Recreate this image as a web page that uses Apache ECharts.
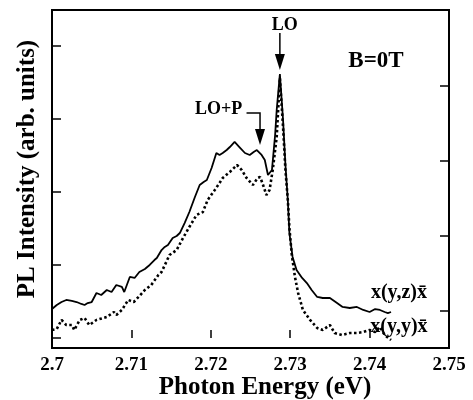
<!DOCTYPE html>
<html><head><meta charset="utf-8">
<script src="https://cdn.jsdelivr.net/npm/echarts@6/dist/echarts.min.js"></script>
<style>html,body{margin:0;padding:0;background:#fff}#c{width:473px;height:400px}</style>
</head><body><div id="c"></div>
<script>
// x(y,z)x̄ (solid)
var energyZ = [2.7000,2.7006,2.7012,2.7018,2.7025,2.7031,2.7037,2.7041,2.7045,2.7050,2.7056,2.7062,2.7069,2.7075,2.7081,2.7088,2.7091,2.7098,2.7104,2.7110,2.7117,2.7123,2.7129,2.7132,2.7138,2.7142,2.7146,2.7152,2.7157,2.7161,2.7167,2.7173,2.7180,2.7186,2.7191,2.7195,2.7201,2.7207,2.7211,2.7215,2.7220,2.7224,2.7230,2.7236,2.7243,2.7249,2.7254,2.7258,2.7264,2.7268,2.7272,2.7274,2.7277,2.7281,2.7283,2.7287,2.7291,2.7294,2.7297,2.7299,2.7303,2.7308,2.7315,2.7321,2.7327,2.7334,2.7341,2.7350,2.7359,2.7366,2.7375,2.7384,2.7392,2.7400,2.7407,2.7413,2.7419,2.7423,2.7427];
var intensityZ = [0.397,0.452,0.493,0.521,0.507,0.493,0.466,0.452,0.479,0.493,0.616,0.589,0.658,0.630,0.726,0.699,0.630,0.836,0.822,0.904,0.945,1.000,1.068,1.096,1.205,1.247,1.274,1.370,1.397,1.438,1.575,1.726,1.932,2.096,2.137,2.164,2.329,2.534,2.507,2.534,2.575,2.616,2.685,2.616,2.534,2.507,2.548,2.575,2.507,2.438,2.233,2.260,2.301,2.781,3.123,3.616,2.986,2.370,1.890,1.438,1.110,0.932,0.822,0.753,0.658,0.562,0.548,0.548,0.479,0.425,0.411,0.425,0.384,0.356,0.397,0.384,0.356,0.342,0.356];
// x(y,y)x̄ (dotted)
var energyY = [2.7000,2.7006,2.7012,2.7018,2.7025,2.7028,2.7035,2.7041,2.7047,2.7056,2.7069,2.7078,2.7081,2.7088,2.7096,2.7103,2.7109,2.7117,2.7125,2.7134,2.7138,2.7148,2.7157,2.7165,2.7173,2.7182,2.7190,2.7196,2.7205,2.7211,2.7215,2.7224,2.7233,2.7239,2.7245,2.7253,2.7259,2.7262,2.7265,2.7270,2.7274,2.7278,2.7283,2.7287,2.7291,2.7294,2.7297,2.7299,2.7302,2.7306,2.7310,2.7316,2.7325,2.7334,2.7341,2.7350,2.7356,2.7365,2.7375,2.7384,2.7392,2.7400,2.7407,2.7413,2.7419,2.7427];
var intensityY = [0.110,0.123,0.247,0.178,0.178,0.110,0.247,0.274,0.178,0.247,0.288,0.356,0.315,0.384,0.521,0.493,0.562,0.658,0.726,0.863,0.904,1.137,1.205,1.370,1.521,1.685,1.726,1.890,2.027,2.123,2.192,2.274,2.370,2.301,2.192,2.096,2.192,2.205,2.123,1.959,2.027,2.301,2.753,3.562,2.890,2.301,1.890,1.507,1.137,0.836,0.616,0.384,0.247,0.137,0.110,0.178,0.068,0.041,0.068,0.068,0.082,0.110,0.082,0.151,0.041,-0.027];
var xTicks = [2.7, 2.71, 2.72, 2.73, 2.74, 2.75];
var leftTicks = [0, 1, 2, 3, 4];
var rightTicks = [0, 1, 2, 3];

function pairs(xs, ys){ return xs.map(function(x,i){ return [x, ys[i]]; }); }
var FONT = '"Liberation Serif", "Times New Roman", serif';
var chart = echarts.init(document.getElementById('c'), null, {renderer:'canvas'});
chart.setOption({
  animation:false,
  backgroundColor:'#fff',
  grid:{left:52, right:24, top:10, bottom:52, show:true, borderColor:'#000', borderWidth:2, backgroundColor:'transparent'},
  xAxis:{type:'value', min:2.7, max:2.75, interval:0.01,
    axisLine:{show:false}, splitLine:{show:false},
    axisTick:{inside:true, length:8, lineStyle:{color:'#000', width:1.5}},
    axisLabel:{color:'#000', fontFamily:FONT, fontWeight:'bold', fontSize:19, margin:8,
      formatter:function(v){ var s = xTicks.filter(function(t){return Math.abs(t-v)<1e-9;}); return s.length? String(s[0]) : ''; }}},
  yAxis:[
    {type:'value', position:'left', min:-0.137, max:4.493,
     axisLine:{show:false}, splitLine:{show:false}, axisLabel:{show:false},
     axisTick:{inside:true, length:9, customValues:leftTicks, lineStyle:{color:'#000', width:1.5}}},
    {type:'value', position:'right', min:-0.49, max:4.0,
     axisLine:{show:false}, splitLine:{show:false}, axisLabel:{show:false},
     axisTick:{inside:true, length:9, customValues:rightTicks, lineStyle:{color:'#000', width:1.5}}}
  ],
  series:[
    {type:'line', name:'x(y,z)x', data:pairs(energyZ,intensityZ), showSymbol:false, yAxisIndex:0,
     lineStyle:{color:'#000', width:1.8}},
    {type:'line', name:'x(y,y)x', data:pairs(energyY,intensityY), showSymbol:false, yAxisIndex:0,
     lineStyle:{color:'#000', width:2.6, type:[2.5,2.5], cap:'butt'}}
  ]
});

function P(e, v){ return chart.convertToPixel({xAxisIndex:0, yAxisIndex:0}, [e, v]); }
var lo0 = P(2.7287, 4.178), lo1 = P(2.7287, 3.671), loT = P(2.7293, 4.288);
var lp0 = P(2.7245, 3.082), lp1 = P(2.7262, 3.082), lp2 = P(2.7262, 2.644), lpT = P(2.7210, 3.137);
var bT = P(2.7408, 3.795), zT = P(2.7437, 0.616), yT = P(2.7437, 0.151);
function head(x, y){ return {type:'polygon', shape:{points:[[x-5, y-16],[x+5, y-16],[x, y]]}, style:{fill:'#000'}}; }
function label(p, txt, size, weight){
  return {type:'text', x:p[0], y:p[1], style:{text:txt, fill:'#000', font: weight+' '+size+'px '+FONT, align:'center', verticalAlign:'middle'}};
}
chart.setOption({graphic:[
  {type:'line', shape:{x1:lo0[0], y1:lo0[1], x2:lo1[0], y2:lo1[1]-8}, style:{stroke:'#000', lineWidth:1.5}},
  head(lo1[0], lo1[1]),
  {type:'polyline', shape:{points:[lp0, lp1, [lp2[0], lp2[1]-8]]}, style:{stroke:'#000', lineWidth:1.5, fill:null}},
  head(lp2[0], lp2[1]),
  label(loT, 'LO', 18, 'bold'),
  label(lpT, 'LO+P', 18, 'bold'),
  label(bT, 'B=0T', 23, 'bold'),
  label(zT, 'x(y,z)x\u0304', 20, 'bold'),
  label(yT, 'x(y,y)x\u0304', 20, 'bold'),
  {type:'text', x:265, y:388, style:{text:'Photon Energy (eV)', fill:'#000', font:'bold 25px '+FONT, align:'center', verticalAlign:'middle'}},
  {type:'text', x:28, y:169, rotation:Math.PI/2, style:{text:'PL Intensity (arb. units)', fill:'#000', font:'bold 25px '+FONT, align:'center', verticalAlign:'middle'}}
]});
</script></body></html>
